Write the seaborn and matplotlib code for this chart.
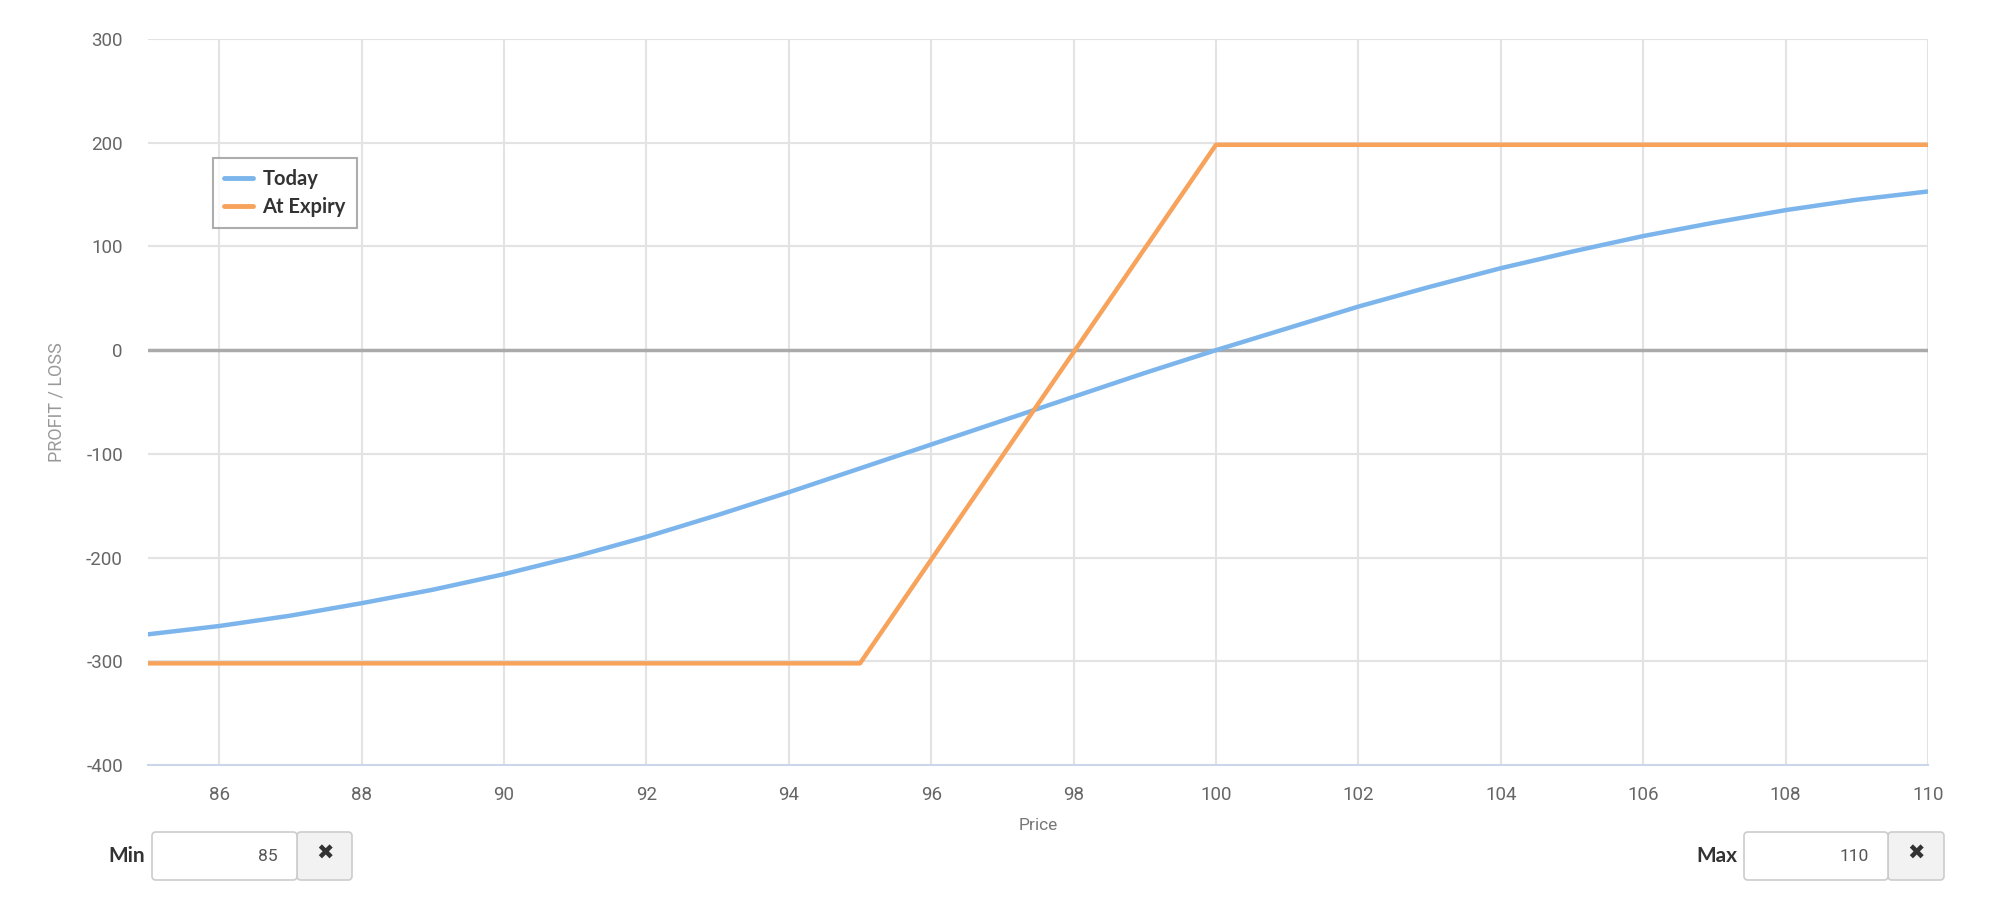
import numpy as np
import pandas as pd
import seaborn as sns
import matplotlib.pyplot as plt
from matplotlib.patches import FancyBboxPatch
from matplotlib.transforms import IdentityTransform

# P/L of a 95/100 call spread
today_price = [85, 86, 87, 88, 89, 90, 91, 92, 93, 94, 95, 96, 97,
               98, 99, 100, 101, 102, 103, 104, 105, 106, 107, 108, 109, 110]
today_pl = [-274, -266, -256, -244, -231, -216, -199, -180, -159, -137, -114, -91, -68,
            -45, -22, 0, 21, 42, 61, 79, 95, 110, 123, 135, 145, 153]
expiry_price = [85, 95, 100, 110]
expiry_pl = [-302, -302, 198, 198]

x_ticks = list(range(86, 111, 2))
y_ticks = list(range(-400, 301, 100))
price_min, price_max = 85, 110

today_df = pd.DataFrame({'Price': today_price, 'PL': today_pl})
expiry_df = pd.DataFrame({'Price': expiry_price, 'PL': expiry_pl})

sns.set_style('white')
plt.rcParams['font.family'] = ['Roboto', 'DejaVu Sans']
plt.rcParams['axes.unicode_minus'] = False

W, H = 1999, 905
fig = plt.figure(figsize=(W / 100, H / 100), dpi=100)
ax = fig.add_axes([148 / W, 1 - 765 / H, 1780 / W, 726 / H])

# grid
for xv in x_ticks:
    ax.axvline(xv, color='#e3e3e3', lw=1.5, zorder=0)
for yv in y_ticks[1:]:
    ax.axhline(yv, color='#e3e3e3', lw=1.5, zorder=0)
ax.axhline(0, color='#aaaaaa', lw=2.5, zorder=1)

sns.lineplot(data=today_df, x='Price', y='PL', ax=ax, color='#7cb5ec', lw=3.2,
             label='Today', zorder=3)
sns.lineplot(data=expiry_df, x='Price', y='PL', ax=ax, color='#f7a35c', lw=3.2,
             label='At Expiry', zorder=4)

ax.set_xlim(price_min, price_max)
ax.set_ylim(-400, 300)
ax.set_xticks(x_ticks)
ax.set_yticks(y_ticks)

for s in ['top', 'right', 'left']:
    ax.spines[s].set_visible(False)
ax.spines['bottom'].set_color('#ccd6eb')
ax.spines['bottom'].set_linewidth(1.5)

ax.tick_params(axis='x', length=12, width=1.2, color='#ccd6eb', pad=3,
               labelsize=13.5, labelcolor='#666666')
ax.tick_params(axis='y', length=0, pad=18, labelsize=13.5, labelcolor='#666666')

ax.set_xlabel('Price', fontsize=12.5, color='#777777', labelpad=10)
ax.set_ylabel('PROFIT / LOSS', fontsize=13, color='#999999', labelpad=15)

leg = ax.legend(loc='upper left', bbox_to_anchor=(0.031, 0.85), fancybox=False,
                frameon=True, handlelength=1.4, handletextpad=0.5, borderpad=0.55,
                labelspacing=0.4, prop={'family': 'Lato', 'weight': 'bold', 'size': 14.5})
leg.get_frame().set_edgecolor('#999999')
leg.get_frame().set_linewidth(1.5)
for t in leg.get_texts():
    t.set_color('#333333')
for h in leg.get_lines():
    h.set_linewidth(3.5)

# Min / Max input widgets below the chart
ident = IdentityTransform()


def widget(label, label_right, box_left, box_mid, box_right, value):
    top, bottom = 832, 880
    yc = H - (top + bottom) / 2
    fig.text(label_right, yc, label, transform=ident, ha='right', va='center',
             fontsize=15, fontweight='bold', color='#333333', family='Lato')
    btn = FancyBboxPatch((box_mid, H - bottom), box_right - box_mid, bottom - top,
                         boxstyle='round,pad=0,rounding_size=4', transform=ident,
                         facecolor='#f2f2f2', edgecolor='#cccccc', lw=1.2)
    inp = FancyBboxPatch((box_left, H - bottom), box_mid - box_left, bottom - top,
                         boxstyle='round,pad=0,rounding_size=4', transform=ident,
                         facecolor='white', edgecolor='#cccccc', lw=1.2)
    fig.patches.extend([btn, inp])
    fig.text(box_mid - 19, yc, value, transform=ident, ha='right', va='center',
             fontsize=12.5, color='#555555')
    fig.text((box_mid + box_right) / 2, yc + 2, '\u2716', transform=ident,
             ha='center', va='center', fontsize=15, color='#333333', family='DejaVu Sans')


widget('Min', 145, 152, 297, 352, str(price_min))
widget('Max', 1737, 1744, 1888, 1944, str(price_max))

fig.savefig('out.png', dpi=100)
